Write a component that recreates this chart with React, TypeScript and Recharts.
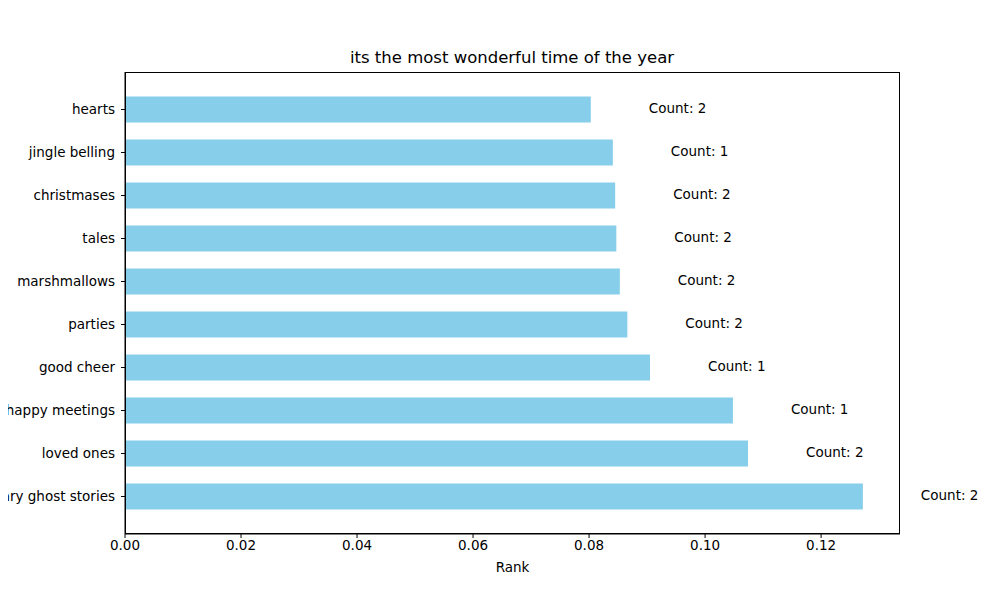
import { BarChart, Bar, XAxis, YAxis, LabelList } from "recharts";

const categories = [
  "hearts",
  "jingle belling",
  "christmases",
  "tales",
  "marshmallows",
  "parties",
  "good cheer",
  "happy meetings",
  "loved ones",
  "scary ghost stories",
];
const ranks = [0.0803, 0.0841, 0.0845, 0.0847, 0.0853, 0.0866, 0.0905, 0.1048, 0.1074, 0.1272];
const counts = [2, 1, 2, 2, 2, 2, 1, 1, 2, 2];
const xTicks = [0, 0.02, 0.04, 0.06, 0.08, 0.1, 0.12];

const data = categories.map((name, i) => ({ name, rank: ranks[i], count: counts[i] }));

const font = "DejaVu Sans, sans-serif";

function CountLabel(props: any) {
  const { x, y, width, height, index } = props;
  return (
    <text
      x={x + width + 58}
      y={y + height / 2}
      dy={-1}
      dominantBaseline="middle"
      fontSize={13.5}
      fontFamily={font}
      fill="#000"
    >
      Count: {counts[index]}
    </text>
  );
}

export default function App() {
  return (
    <div style={{ position: "relative", width: 1000, height: 600, margin: -8, background: "#fff" }}>
      <BarChart
        width={1000}
        height={600}
        data={data}
        layout="vertical"
        margin={{ top: 72, right: 100, bottom: 0, left: 0 }}
        barCategoryGap="20%"
      >
        <text x={512} y={58} textAnchor="middle" dominantBaseline="middle" fontSize={16.5} fontFamily={font}>
          its the most wonderful time of the year
        </text>
        <XAxis
          type="number"
          domain={[0, 0.1336]}
          ticks={xTicks}
          tickFormatter={(v: number) => v.toFixed(2)}
          tick={{ fill: "#000", fontSize: 13.5, fontFamily: font }}
          tickLine={{ stroke: "#000" }}
          axisLine={{ stroke: "#000" }}
          tickSize={4}
          height={66}
          label={{ value: "Rank", position: "insideTop", offset: 28, fill: "#000", fontSize: 13.5, fontFamily: font }}
        />
        <YAxis
          type="category"
          dataKey="name"
          width={125}
          padding={{ top: 16, bottom: 16 }}
          tick={{ fill: "#000", fontSize: 13.5, fontFamily: font, dx: -4 }}
          tickLine={{ stroke: "#000" }}
          axisLine={{ stroke: "#000" }}
          tickSize={4}
          interval={0}
        />
        <Bar dataKey="rank" fill="#87ceeb" isAnimationActive={false}>
          <LabelList dataKey="count" content={<CountLabel />} />
        </Bar>
      </BarChart>
      <div
        style={{
          position: "absolute",
          left: 125,
          top: 72,
          width: 775,
          height: 462,
          border: "1px solid #000",
          boxSizing: "border-box",
          pointerEvents: "none",
        }}
      />
    </div>
  );
}
